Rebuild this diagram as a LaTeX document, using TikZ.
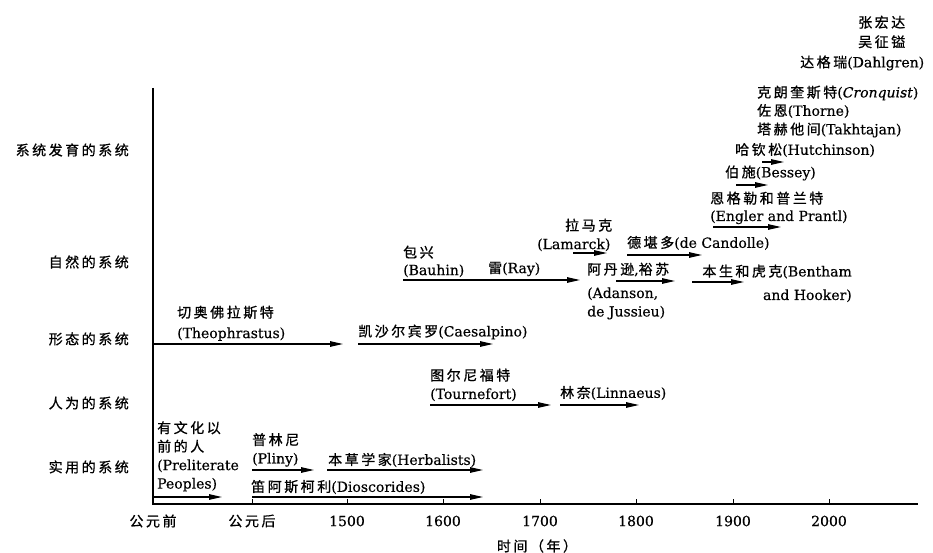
\documentclass[tikz,border=0pt]{standalone}
\usepackage{fontspec}
\setmainfont{DejaVu Serif}[FakeBold=0.4]
\newfontfamily\cjk{Noto Sans CJK SC}[LetterSpace=18, FakeBold=0.8]
\usetikzlibrary{arrows.meta}
\newcommand{\zh}[1]{{\cjk #1}}
\begin{document}
\begin{tikzpicture}[x=1pt,y=-1pt,
  font=\fontsize{14}{18.5}\selectfont,
  txt/.style={inner sep=0pt, anchor=west},
  mtxt/.style={inner sep=0pt, anchor=north west, align=left},
  rowlab/.style={inner sep=0pt, anchor=east},
  yr/.style={inner sep=0pt},
  arr/.style={line width=1.2pt, -{Triangle[length=13pt,width=5.5pt]}},
  ax/.style={line width=1.5pt},
  tick/.style={line width=0.9pt}]
\useasboundingbox (0,0) rectangle (933,553);

% axes
\coordinate (Ytop) at (153,88);
\coordinate (O) at (153,504);
\coordinate (Xend) at (918,504);
\draw[ax] (Ytop) -- (O) -- (Xend);
\foreach \x/\n in {252/t0,347/t15,443/t16,540/t17,636/t18,733/t19,829/t20}
  \draw[tick] (\x,504) coordinate (\n) -- (\x,498.5);

% row labels
\node[rowlab] (r1) at (129,150) {\zh{系统发育的系统}};
\node[rowlab] (r2) at (129,262) {\zh{自然的系统}};
\node[rowlab] (r3) at (129,339) {\zh{形态的系统}};
\node[rowlab] (r4) at (129,403) {\zh{人为的系统}};
\node[rowlab] (r5) at (129,467) {\zh{实用的系统}};

% axis labels
\node[yr] (l0) at (153,521) {\zh{公元前}};
\node[yr] (l1) at (252,521) {\zh{公元后}};
\node[yr] (l15) at (347,521) {1500};
\node[yr] (l16) at (443,521) {1600};
\node[yr] (l17) at (540,521) {1700};
\node[yr] (l18) at (636,521) {1800};
\node[yr] (l19) at (733,521) {1900};
\node[yr] (l20) at (829,521) {2000};
\node[yr] (xl) at (537,546) {\zh{时间（年）}};

% practical systems
\node[mtxt] (pre) at (157,421) {\zh{有文化以}\\\zh{前的人}\\(Preliterate\\Peoples)};
\coordinate (preA) at (153,497); \coordinate (preB) at (222,497);
\draw[arr] (preA) -- (preB);
\node[mtxt] (pli) at (252,433) {\zh{普林尼}\\(Pliny)};
\coordinate (pliA) at (252,470); \coordinate (pliB) at (314,470);
\draw[arr] (pliA) -- (pliB);
\node[txt] (her) at (328,460) {\zh{本草学家}(Herbalists)};
\coordinate (herA) at (327,470); \coordinate (herB) at (483,470);
\draw[arr] (herA) -- (herB);
\node[txt] (dio) at (251,487) {\zh{笛阿斯柯利}(Dioscorides)};
\coordinate (dioA) at (252,497); \coordinate (dioB) at (483,497);
\draw[arr] (dioA) -- (dioB);

% morphological systems
\node[mtxt] (theo) at (177,305.5) {\zh{切奥佛拉斯特}\\[2pt](Theophrastus)};
\coordinate (theoA) at (153,344); \coordinate (theoB) at (343,344);
\draw[arr] (theoA) -- (theoB);
\node[txt] (cae) at (358,332) {\zh{凯沙尔宾罗}(Caesalpino)};
\coordinate (caeA) at (358,344); \coordinate (caeB) at (493,344);
\draw[arr] (caeA) -- (caeB);

% artificial systems
\node[mtxt] (tou) at (430,368.5) {\zh{图尔尼福特}\\(Tournefort)};
\coordinate (touA) at (430,405); \coordinate (touB) at (551,405);
\draw[arr] (touA) -- (touB);
\node[txt] (lin) at (560,393) {\zh{林奈}(Linnaeus)};
\coordinate (linA) at (560,405); \coordinate (linB) at (639,405);
\draw[arr] (linA) -- (linB);

% natural systems
\node[mtxt] (bau) at (403,245.5) {\zh{包兴}\\[-1pt](Bauhin)};
\node[txt] (ray) at (488,269) {\zh{雷}(Ray)};
\coordinate (rayA) at (403,280); \coordinate (rayB) at (580,280);
\draw[arr] (rayA) -- (rayB);
\node[mtxt] (lam) at (537,218.5) {\hspace*{28pt}\zh{拉马克}\\(Lamarck)};
\coordinate (lamA) at (573,253); \coordinate (lamB) at (607,253);
\draw[arr] (lamA) -- (lamB);
\node[txt] (dec) at (627,243) {\zh{德堪多}(de Candolle)};
\coordinate (decA) at (627,255); \coordinate (decB) at (702,255);
\draw[arr] (decA) -- (decB);
\node[mtxt] (ada) at (587,262.5) {\zh{阿丹逊},\zh{裕苏}\\[5pt](Adanson,\\de Jussieu)};
\coordinate (adaA) at (616,281); \coordinate (adaB) at (675,281);
\draw[arr] (adaA) -- (adaB);
\node[inner sep=0pt, anchor=north east, align=right] (ben) at (852,264.5) {\zh{本生和虎克}(Bentham\\[5pt]and Hooker)};
\coordinate (benA) at (692,282); \coordinate (benB) at (744,282);
\draw[arr] (benA) -- (benB);

% phylogenetic systems
\node[mtxt] (eng) at (710,191.5) {\zh{恩格勒和普兰特}\\[-1pt](Engler and Prantl)};
\coordinate (engA) at (713,227); \coordinate (engB) at (781,227);
\draw[arr] (engA) -- (engB);
\node[txt] (bes) at (725,173) {\zh{伯施}(Bessey)};
\coordinate (besA) at (736,185); \coordinate (besB) at (768,185);
\draw[arr] (besA) -- (besB);
\node[txt] (hut) at (735,150) {\zh{哈钦松}(Hutchinson)};
\coordinate (hutA) at (762,162); \coordinate (hutB) at (784,162);
\draw[arr] (hutA) -- (hutB);
\node[txt] (tak) at (757,130) {\zh{塔赫他间}(Takhtajan)};
\node[txt] (tho) at (757,111) {\zh{佐恩}(Thorne)};
\node[txt] (cro) at (757,93) {\zh{克朗奎斯特}(\textit{Cronquist})};
\node[txt] (dah) at (800,63) {\zh{达格瑞}(Dahlgren)};
\node[mtxt] (zw) at (858,15.5) {\zh{张宏达}\\[1pt]\zh{吴征镒}};
\end{tikzpicture}
\end{document}
